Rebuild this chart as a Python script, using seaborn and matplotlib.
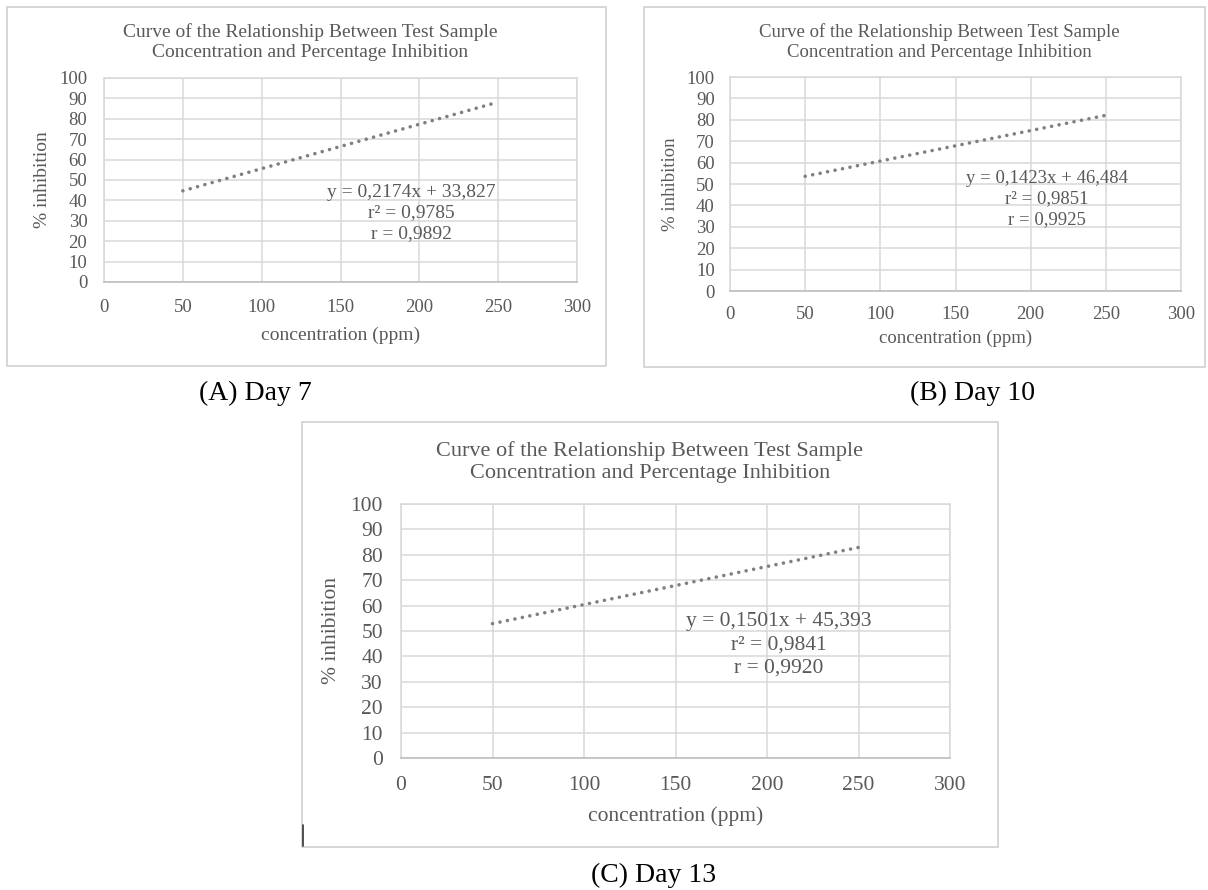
import matplotlib
matplotlib.use("Agg")
import matplotlib.pyplot as plt
from matplotlib.patches import Rectangle
from matplotlib.lines import Line2D
import seaborn as sns

# trend line end points (x in ppm, y in % inhibition)
trend_x = [50, 250]
day7_y = [44.7, 88.2]
day10_y = [53.6, 82.1]
day13_y = [52.9, 82.9]

equations = [
    "y = 0,2174x + 33,827\nr² = 0,9785\nr = 0,9892",
    "y = 0,1423x + 46,484\nr² = 0,9851\nr = 0,9925",
    "y = 0,1501x + 45,393\nr² = 0,9841\nr = 0,9920",
]
captions = ["(A) Day 7", "(B) Day 10", "(C) Day 13"]
title = "Curve of the Relationship Between Test Sample\nConcentration and Percentage Inhibition"
x_ticks = [0, 50, 100, 150, 200, 250, 300]
y_ticks = [0, 10, 20, 30, 40, 50, 60, 70, 80, 90, 100]

W, H = 1208, 890
sns.set_style("white")
plt.rcParams["font.family"] = ["Liberation Serif", "DejaVu Serif"]

fig = plt.figure(figsize=(W / 100, H / 100), dpi=100)

TXT = "#595959"
GRID = "#d9d9d9"


def px_axes(l, t, r, b):
    return fig.add_axes([l / W, 1 - b / H, (r - l) / W, (b - t) / H])


def box(l, t, r, b):
    fig.add_artist(Rectangle((l / W, 1 - b / H), (r - l) / W, (b - t) / H,
                             transform=fig.transFigure, fill=False,
                             edgecolor="#d0d0d0", linewidth=1.2))


panels = [
    # plot area px, chart box px, font sizes, label offsets, title pos, eq pos, caption pos
    dict(plot=(104, 78, 577, 282), frame=(7, 7, 606, 366), ys=day7_y,
         fs_title=14, fs_tick=13.5, fs_lab=14, fs_eq=14,
         tpad_x=12, tpad_y=12, xlab_y=-0.26, ylab_x=-0.131,
         title_xy=(310, 42), eq_xy=(195, 33.8), cap_xy=(255, 393)),
    dict(plot=(730, 77, 1181, 291), frame=(644, 7, 1205, 367), ys=day10_y,
         fs_title=13.5, fs_tick=13.5, fs_lab=13.5, fs_eq=13.5,
         tpad_x=11, tpad_y=11, xlab_y=-0.22, ylab_x=-0.133,
         title_xy=(939, 42), eq_xy=(211, 43), cap_xy=(973, 393)),
    dict(plot=(401, 504, 950, 758), frame=(302, 422, 998, 847), ys=day13_y,
         fs_title=16, fs_tick=15.5, fs_lab=15.5, fs_eq=15.5,
         tpad_x=13, tpad_y=13, xlab_y=-0.228, ylab_x=-0.1275,
         title_xy=(650, 462), eq_xy=(206.5, 44.5), cap_xy=(654, 875)),
]

for p, eq, cap in zip(panels, equations, captions):
    l, t, r, b = p["plot"]
    box(*p["frame"])
    ax = px_axes(l, t, r, b)
    sns.lineplot(x=trend_x, y=p["ys"], ax=ax, color="#808080", linewidth=2.6,
                 linestyle=(0, (0.01, 2.1)))
    for ln in ax.lines:
        ln.set_dash_capstyle("round")
    ax.set_xlim(0, 300)
    ax.set_ylim(0, 100)
    ax.set_xticks(x_ticks)
    ax.set_yticks(y_ticks)
    ax.grid(True, color=GRID, linewidth=1.1)
    ax.set_axisbelow(True)
    for side in ["left", "right", "top"]:
        ax.spines[side].set_color(GRID)
        ax.spines[side].set_linewidth(1.1)
    ax.spines["bottom"].set_color("#bfbfbf")
    ax.spines["bottom"].set_linewidth(1.2)
    ax.tick_params(axis="x", length=0, pad=p["tpad_x"], labelsize=p["fs_tick"], labelcolor=TXT)
    ax.tick_params(axis="y", length=0, pad=p["tpad_y"], labelsize=p["fs_tick"], labelcolor=TXT)
    ax.set_xlabel("concentration (ppm)", fontsize=p["fs_lab"], color=TXT)
    ax.set_ylabel("% inhibition", fontsize=p["fs_lab"], color=TXT)
    ax.xaxis.set_label_coords(0.5, p["xlab_y"])
    ax.yaxis.set_label_coords(p["ylab_x"], 0.5)
    ax.xaxis.label.set_va("center")
    ax.yaxis.label.set_va("center")
    ax.text(p["eq_xy"][0], p["eq_xy"][1], eq, ha="center", va="center",
            fontsize=p["fs_eq"], color=TXT, linespacing=1.3)
    fig.text(p["title_xy"][0] / W, 1 - p["title_xy"][1] / H, title, ha="center",
             va="center", fontsize=p["fs_title"], color=TXT, linespacing=1.25)
    fig.text(p["cap_xy"][0] / W, 1 - p["cap_xy"][1] / H, cap, ha="center",
             va="center", fontsize=20, color="black")

# stray cursor mark at the lower left of panel C
fig.add_artist(Line2D([303 / W, 303 / W], [1 - 825 / H, 1 - 846 / H],
                      transform=fig.transFigure, color="#333333", linewidth=1.2))

fig.savefig("out.png", dpi=100)
